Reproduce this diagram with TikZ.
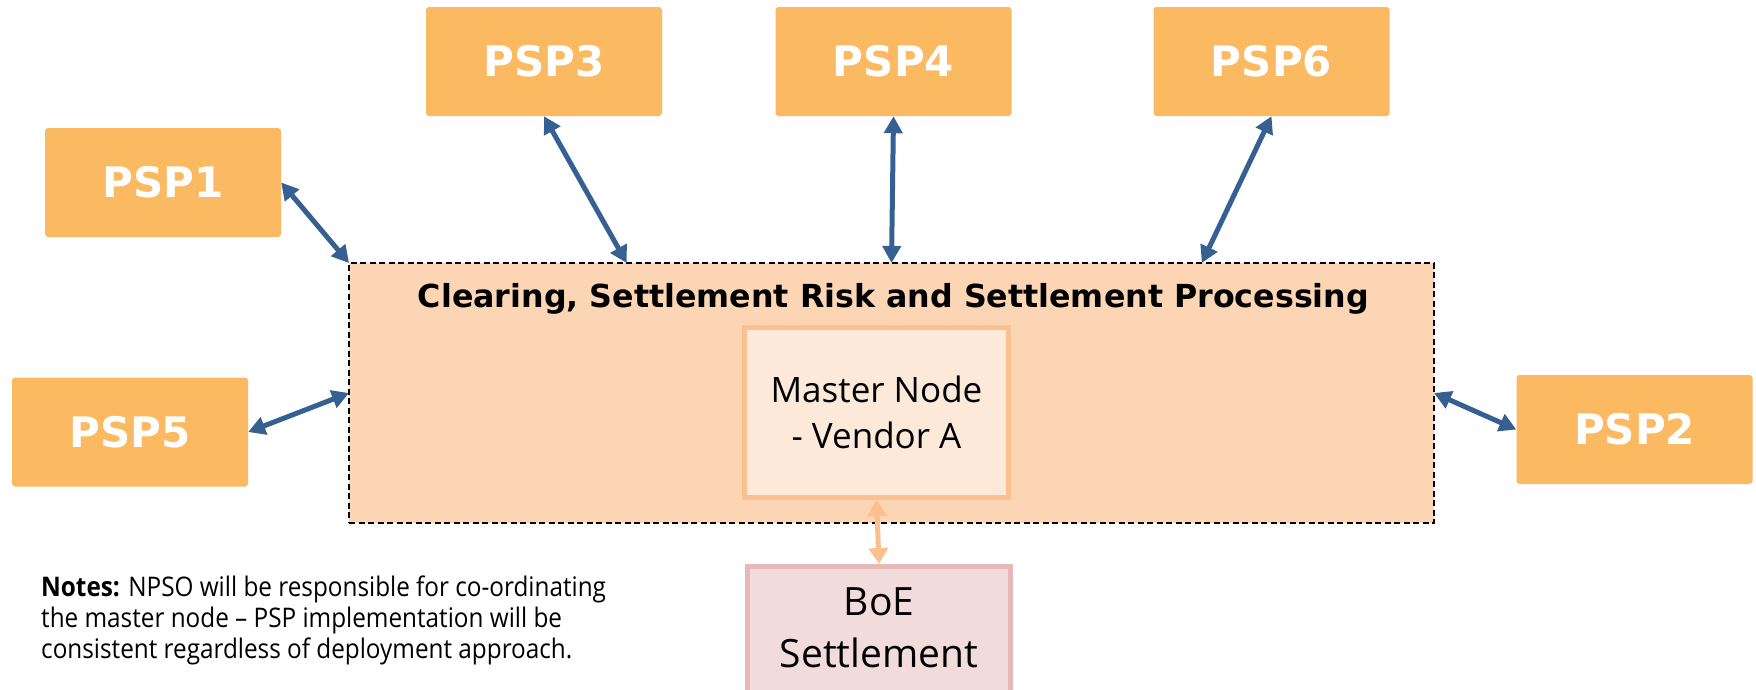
\documentclass[tikz,border=0pt]{standalone}
\usepackage{fontspec}
\setmainfont{Open Sans}
\newfontfamily\headfont{DejaVu Sans}
\newfontfamily\notefont{Open Sans}[FakeStretch=0.90]
\usetikzlibrary{arrows.meta,calc}
\definecolor{pspfill}{HTML}{FBB962}
\definecolor{linkblue}{HTML}{366092}
\definecolor{mainfill}{HTML}{FCD5B5}
\definecolor{masterline}{HTML}{FAC090}
\definecolor{masterfill}{HTML}{FDE9D9}
\definecolor{boeline}{HTML}{E6B8B7}
\definecolor{boefill}{HTML}{F2DCDB}
\tikzset{
  psp/.style={rectangle, rounded corners=3pt, fill=pspfill, minimum width=236pt,
    minimum height=109pt, inner sep=0pt, text=white,
    font=\headfont\bfseries\fontsize{42}{50}\selectfont},
  link/.style={draw=linkblue, line width=5pt,
    {Triangle[length=17pt,width=18pt]}-{Triangle[length=17pt,width=18pt]}},
  boelink/.style={draw=masterline, line width=5pt,
    {Triangle[length=16pt,width=19pt]}-{Triangle[length=16pt,width=19pt]}},
}
\begin{document}
\begin{tikzpicture}[x=1pt,y=-1pt]
\useasboundingbox (0,0) rectangle (1756,689);

% processing area
\node[draw, dash pattern=on 6pt off 3.5pt, line width=2.2pt, fill=mainfill,
  minimum width=1085pt, minimum height=260pt, inner sep=0pt, outer sep=0pt]
  (main) at (891.5,393) {};
\node[anchor=base, inner sep=0pt, font=\headfont\bfseries\fontsize{31.7}{38}\selectfont]
  (title) at (893.5,307) {Clearing, Settlement Risk and Settlement Processing};

% master node and settlement
\node[draw=masterline, line width=5pt, fill=masterfill, minimum width=264pt,
  minimum height=170pt, align=center, font=\fontsize{35}{46}\selectfont]
  (master) at (876.5,412.5) {Master Node\\- Vendor A};
\node[draw=boeline, line width=5pt, fill=boefill, minimum width=263pt,
  minimum height=140pt, align=center, text depth=17pt, font=\fontsize{39}{52}\selectfont]
  (boe) at (879,636.5) {BoE\\Settlement};

% payment service providers
\node[psp] (psp1) at (163,182.5) {PSP1};
\node[psp] (psp5) at (130,432) {PSP5};
\node[psp] (psp3) at (544,61.5) {PSP3};
\node[psp] (psp4) at (893.5,61.5) {PSP4};
\node[psp] (psp6) at (1271.5,61.5) {PSP6};
\node[psp] (psp2) at (1634.5,429.5) {PSP2};

% links
\draw[link] (psp1.east) -- (main.north west);
\draw[link] (psp5.east) -- (main.west);
\draw[link] (main.east) -- (psp2.west);
\draw[link] (psp3.south) -- ($(main.north west)!0.256!(main.north east)$);
\draw[link] (psp4.south) -- (main.north);
\draw[link] (psp6.south) -- ($(main.north west)!0.786!(main.north east)$);
\draw[boelink] (master.south) -- (boe.north);

% notes (anchored on the baseline of the last line)
\node[anchor=base west, align=left, inner sep=0pt,
  font=\notefont\fontsize{27}{31}\selectfont] (notes) at (41,658)
  {\textbf{Notes:} NPSO will be responsible for co-ordinating\\
   the master node – PSP implementation will be\\
   consistent regardless of deployment approach.};
\end{tikzpicture}
\end{document}
